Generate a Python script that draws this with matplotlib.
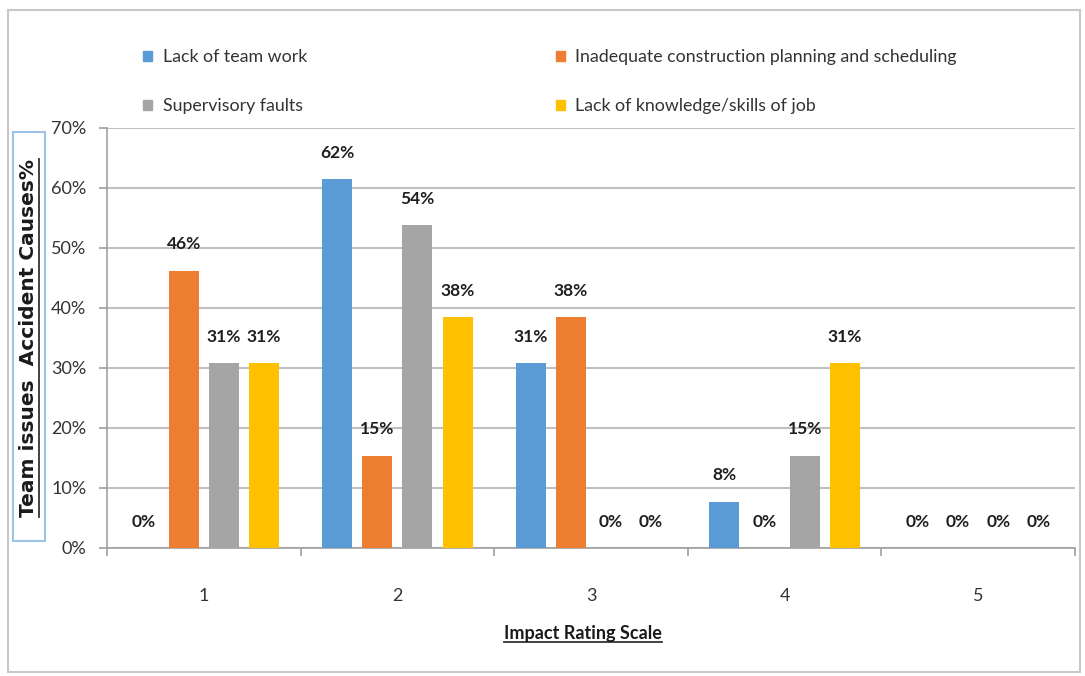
import matplotlib
matplotlib.use("Agg")
import matplotlib.pyplot as plt
import numpy as np
from matplotlib import font_manager
from matplotlib.lines import Line2D
from matplotlib.patches import Patch, Rectangle

# ----- Data (percent of respondents) -----
ratings = ["1", "2", "3", "4", "5"]
series_names = [
    "Lack of team work",
    "Inadequate construction planning and scheduling",
    "Supervisory faults",
    "Lack of knowledge/skills of job",
]
team_work = [0.0, 61.5, 30.8, 7.7, 0.0]
planning = [46.2, 15.4, 38.5, 0.0, 0.0]
supervisory = [30.8, 53.8, 0.0, 15.4, 0.0]
knowledge = [30.8, 38.5, 0.0, 30.8, 0.0]
yticks = [0, 10, 20, 30, 40, 50, 60, 70]

colors = ["#5B9BD5", "#ED7D31", "#A5A5A5", "#FFC000"]

# ----- Font: something close to Calibri -----
available = {f.name for f in font_manager.fontManager.ttflist}
family = "DejaVu Sans"
for name in ["Liberation Sans Narrow", "Lato", "Open Sans"]:
    if name in available:
        family = name
        break
plt.rcParams["font.family"] = [family, "DejaVu Sans"]

W, H = 1085, 676
fig = plt.figure(figsize=(W / 100, H / 100), dpi=100)
ax = fig.add_axes([107 / W, 1 - 548 / H, (1075 - 107) / W, (548 - 128) / H])

x = np.arange(len(ratings))
step = 0.207
width = 0.155
all_series = [team_work, planning, supervisory, knowledge]
for i, (vals, col) in enumerate(zip(all_series, colors)):
    pos = x + (i - 1.5) * step
    ax.bar(pos, vals, width=width, color=col, zorder=3)
    for px, v in zip(pos, vals):
        ax.annotate(f"{v:.0f}%", (px, v), xytext=(0, 19), textcoords="offset points",
                    ha="center", va="center", fontsize=12.5, fontweight="bold",
                    color="#1f1f1f", zorder=4)

ax.set_xlim(-0.5, len(ratings) - 0.5)
ax.set_ylim(0, 70)
ax.set_yticks(yticks)
ax.set_yticklabels([f"{t}%" for t in yticks])
ax.yaxis.grid(True, color="#c0c0c0", linewidth=1.5, zorder=0)

# category labels in the middle, tick marks at the boundaries
ax.set_xticks(np.arange(len(ratings) + 1) - 0.5)
ax.set_xticklabels([])
ax.set_xticks(x, minor=True)
ax.set_xticklabels(ratings, minor=True)
ax.tick_params(axis="x", which="major", length=6, color="#a0a0a0", width=1.2)
ax.tick_params(axis="x", which="minor", length=0, pad=29, labelsize=13, labelcolor="#333333")
ax.tick_params(axis="y", length=6, color="#a0a0a0", width=1.2, pad=9, labelsize=13,
               labelcolor="#333333")

for s in ["top", "right"]:
    ax.spines[s].set_visible(False)
for s in ["left", "bottom"]:
    ax.spines[s].set_color("#a0a0a0")
    ax.spines[s].set_linewidth(1.2)

# ----- Legend -----
handles = [Patch(color=c) for c in colors]
order = [0, 2, 1, 3]
leg = fig.legend([handles[i] for i in order], [series_names[i] for i in order],
                 ncol=2, loc="upper left", bbox_to_anchor=(127 / W, 1 - 33 / H),
                 frameon=False, fontsize=12.8, handlelength=0.5, handleheight=0.5,
                 handletextpad=0.6, labelspacing=1.85, columnspacing=14.0,
                 labelcolor="#333333")

# ----- Axis titles -----
ylab = fig.text(29 / W, 1 - 338 / H, "Team issues  Accident Causes%", rotation=90,
                ha="center", va="center", fontsize=14.5, fontweight="bold", color="#1a1a1a",
                family="DejaVu Sans")
xlab = fig.text(583 / W, 1 - 633 / H, "Impact Rating Scale", ha="center", va="center",
                fontsize=13, fontweight="bold", color="#1a1a1a")

# box around the y title and the outer chart border
fig.patches.append(Rectangle((13 / W, 1 - 541 / H), 32 / W, 409 / H, transform=fig.transFigure,
                             fill=False, edgecolor="#9DC3E6", linewidth=1.5))
fig.patches.append(Rectangle((8 / W, 1 - 672 / H), 1072 / W, 662 / H, transform=fig.transFigure,
                             fill=False, edgecolor="#c8c8c8", linewidth=1.5))

# underline both titles
fig.canvas.draw()
inv = fig.transFigure.inverted()
bb = xlab.get_window_extent().transformed(inv)
fig.lines.append(Line2D([bb.x0, bb.x1], [bb.y0, bb.y0], transform=fig.transFigure,
                        color="#333333", linewidth=1.3))
bb = ylab.get_window_extent().transformed(inv)
fig.lines.append(Line2D([bb.x1, bb.x1], [bb.y0, bb.y1], transform=fig.transFigure,
                        color="#333333", linewidth=1.3))

fig.savefig("out.png", dpi=100)
